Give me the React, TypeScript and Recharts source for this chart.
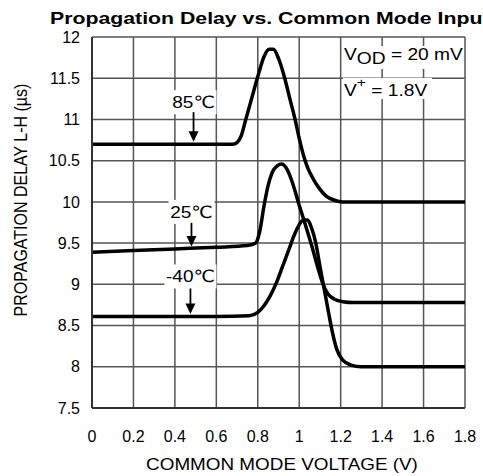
import { LineChart, Line, XAxis, YAxis, CartesianGrid } from 'recharts'

// ── Data ───────────────────────────────────────────────────────

const X_TICKS = [0, 0.2, 0.4, 0.6, 0.8, 1, 1.2, 1.4, 1.6, 1.8]
const Y_TICKS = [7.5, 8, 8.5, 9, 9.5, 10, 10.5, 11, 11.5, 12]

// 85℃
const V_85 = [0, 0.4, 0.68, 0.7, 0.72, 0.74, 0.77, 0.8, 0.83, 0.855, 0.875, 0.9, 0.93, 0.955, 0.98, 1.0, 1.02, 1.04, 1.065, 1.095, 1.13, 1.17, 1.21, 1.8]
const D_85 = [10.7, 10.7, 10.7, 10.72, 10.8, 10.98, 11.25, 11.52, 11.76, 11.85, 11.85, 11.74, 11.5, 11.25, 11.0, 10.77, 10.57, 10.42, 10.29, 10.17, 10.07, 10.02, 10.0, 10.0]

// 25℃
const V_25 = [0, 0.2, 0.4, 0.6, 0.75, 0.79, 0.81, 0.83, 0.85, 0.87, 0.895, 0.915, 0.94, 0.965, 0.995, 1.03, 1.06, 1.09, 1.115, 1.14, 1.17, 1.21, 1.26, 1.8]
const D_25 = [9.39, 9.41, 9.43, 9.45, 9.47, 9.5, 9.65, 9.95, 10.2, 10.36, 10.44, 10.46, 10.4, 10.25, 10.0, 9.72, 9.47, 9.2, 9.0, 8.88, 8.82, 8.79, 8.78, 8.78]

// -40℃
const V_M40 = [0, 0.6, 0.76, 0.8, 0.83, 0.86, 0.89, 0.92, 0.95, 0.97, 0.995, 1.02, 1.04, 1.06, 1.08, 1.1, 1.12, 1.14, 1.16, 1.18, 1.21, 1.25, 1.3, 1.8]
const D_M40 = [8.61, 8.61, 8.62, 8.66, 8.74, 8.86, 9.02, 9.22, 9.42, 9.56, 9.7, 9.78, 9.78, 9.68, 9.5, 9.22, 8.95, 8.68, 8.42, 8.22, 8.08, 8.02, 8.0, 8.0]

// where each temperature tag points on its curve
const TAGS = [
  { text: '85℃', x: 0.49, y: 10.7, lift: 42, top: 32, w: 46 },
  { text: '25℃', x: 0.48, y: 9.43, lift: 37, top: 26, w: 46 },
  { text: '-40℃', x: 0.475, y: 8.61, lift: 40, top: 28, w: 52 },
]

const toPoints = (xs: number[], ys: number[]) => xs.map((v, i) => ({ v, d: ys[i] }))

// ── Layout ─────────────────────────────────────────────────────

const W = 483
const H = 476
const M = { top: 37, right: 18, bottom: 0, left: 0 }
const Y_AXIS_W = 92
const X_AXIS_H = 68
const PLOT_L = M.left + Y_AXIS_W
const PLOT_R = W - M.right
const PLOT_T = M.top
const PLOT_B = H - M.bottom - X_AXIS_H
const X_DOMAIN: [number, number] = [0, 1.8]
const Y_DOMAIN: [number, number] = [7.5, 12]

// same linear mapping as the chart's axes, used only for the annotation overlay
const px = (v: number) => PLOT_L + ((v - X_DOMAIN[0]) / (X_DOMAIN[1] - X_DOMAIN[0])) * (PLOT_R - PLOT_L)
const py = (d: number) => PLOT_B - ((d - Y_DOMAIN[0]) / (Y_DOMAIN[1] - Y_DOMAIN[0])) * (PLOT_B - PLOT_T)

const FONT = '"Liberation Sans", Arial, "DejaVu Sans", sans-serif'
const SX = 1.18
const GRID = '#555555'
const TICK_STYLE = { fill: '#000', fontSize: 16, fontFamily: FONT }

function TempTag({ cx, cy, text, lift, top, w }: any) {
  const ty = cy - lift
  return (
    <g>
      <rect x={cx - w / 2} y={ty - 12} width={w} height={24} fill="#fff" />
      <text transform={`translate(${cx},${ty + 6}) scale(1.12,1)`} textAnchor="middle"
        fontSize={17} fontFamily={FONT} fill="#000">
        {text}
      </text>
      <line x1={cx} x2={cx} y1={cy - top} y2={cy - 12} stroke="#000" strokeWidth={1.8} />
      <polygon points={`${cx - 5},${cy - 13} ${cx + 5},${cy - 13} ${cx},${cy - 2.5}`} fill="#000" />
    </g>
  )
}

function Conditions({ cx, cy }: any) {
  const l = cx - 121
  return (
    <g fontFamily={FONT} fontSize={16} fill="#000">
      <rect x={l - 1} y={cy + 9} width={119} height={23} fill="#fff" />
      <rect x={l - 1} y={cy + 41} width={89} height={21} fill="#fff" />
      <text transform={`translate(${l},${cy + 23}) scale(1.2,1)`}>
        V<tspan dy={3.5}>OD</tspan><tspan dy={-3.5}> = 20 mV</tspan>
      </text>
      <text transform={`translate(${l},${cy + 59}) scale(1.2,1)`}>
        V<tspan dy={-9} fontSize={13}>+</tspan><tspan dy={9}> = 1.8V</tspan>
      </text>
    </g>
  )
}

// ── Chart ──────────────────────────────────────────────────────

export default function App() {
  return (
    <div style={{ position: 'absolute', left: 0, top: 0, width: W, height: H }}>
      <LineChart width={W} height={H} margin={M}>
        <CartesianGrid stroke={GRID} strokeWidth={1.5} />
        <XAxis dataKey="v" type="number" domain={X_DOMAIN} ticks={X_TICKS} height={X_AXIS_H}
          tickLine={false} tickMargin={17} tick={TICK_STYLE} stroke="#333333" strokeWidth={2} />
        <YAxis type="number" domain={Y_DOMAIN} ticks={Y_TICKS} width={Y_AXIS_W}
          tickLine={false} tickMargin={6} tick={TICK_STYLE} stroke="#333333" strokeWidth={2} />
        <Line data={toPoints(V_85, D_85)} dataKey="d" type="monotone" stroke="#000"
          strokeWidth={3.5} dot={false} isAnimationActive={false} />
        <Line data={toPoints(V_25, D_25)} dataKey="d" type="monotone" stroke="#000"
          strokeWidth={3.5} dot={false} isAnimationActive={false} />
        <Line data={toPoints(V_M40, D_M40)} dataKey="d" type="monotone" stroke="#000"
          strokeWidth={3.5} dot={false} isAnimationActive={false} />
      </LineChart>

      {/* annotations and titles */}
      <svg width={W} height={H} style={{ position: 'absolute', left: 0, top: 0, pointerEvents: 'none' }}>
        {TAGS.map((t) => (
          <TempTag key={t.text} cx={px(t.x)} cy={py(t.y)} text={t.text} lift={t.lift} top={t.top} w={t.w} />
        ))}
        <Conditions cx={px(X_DOMAIN[1])} cy={py(Y_DOMAIN[1])} />
        <text transform="translate(50,24) scale(1.33,1)" fontFamily={FONT} fontSize={16}
          fontWeight="bold" fill="#000">
          Propagation Delay vs. Common Mode Input
        </text>
        <text transform={`translate(282,470) scale(${SX},1)`} textAnchor="middle"
          fontFamily={FONT} fontSize={16} fill="#000">
          COMMON MODE VOLTAGE (V)
        </text>
        <text transform={`translate(26.5,200) scale(${SX},1) rotate(-90)`} textAnchor="middle"
          fontFamily={FONT} fontSize={16} fill="#000">
          PROPAGATION DELAY L-H (µs)
        </text>
      </svg>
    </div>
  )
}
